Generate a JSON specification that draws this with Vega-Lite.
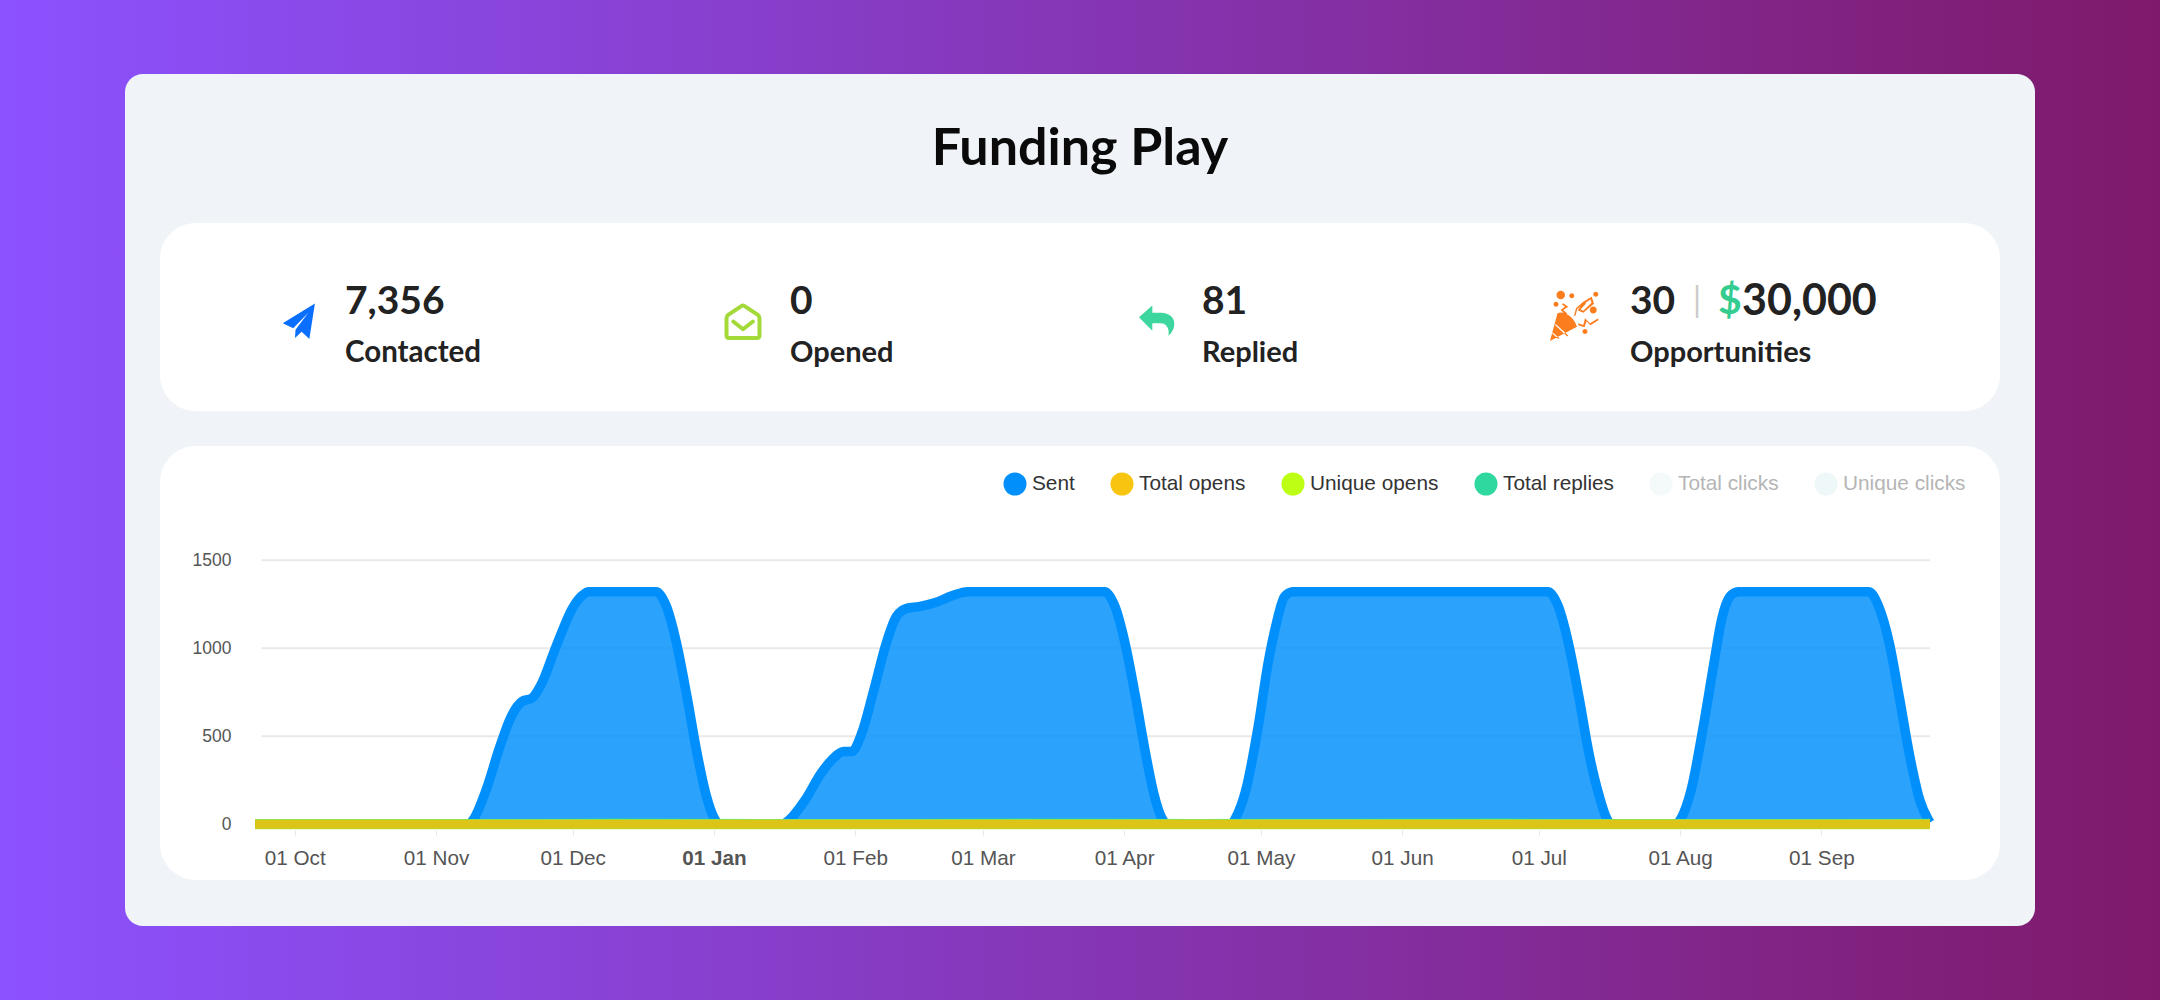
{
"$schema":"https://vega.github.io/schema/vega-lite/v6.json",
"width":2160,"height":1000,"padding":0,"autosize":{"type":"none"},
"background":"#7f1a6b",
"title":{"text":"Funding Play","font":"Lato","fontSize":52,"fontWeight":700,"color":"#0a0a0a","anchor":"middle","frame":"group","offset":0,"dy":176},
"datasets":{
"panels":[{"panel":"frame"}],
"kpis":[{"metric":"Contacted","count":"7,356"},{"metric":"Opened","count":"0"},{"metric":"Replied","count":"81"},{"metric":"Opportunities","count":"30","amount":"30,000"}],
"grid":[{"level":500,"from":"2022-09-23T19:00:00","to":"2023-09-24T20:00:00"},{"level":1000,"from":"2022-09-23T19:00:00","to":"2023-09-24T20:00:00"},{"level":1500,"from":"2022-09-23T19:00:00","to":"2023-09-24T20:00:00"}],
"sent":[
{"d":"2022-09-22T07:00:00","v":0},{"d":"2022-11-08T00:00:00","v":0},{"d":"2022-11-09T00:00:00","v":20},{"d":"2022-11-12T00:00:00","v":195},{"d":"2022-11-15T00:00:00","v":440},{"d":"2022-11-17T12:00:00","v":612},{"d":"2022-11-20T00:00:00","v":700},{"d":"2022-11-22T00:00:00","v":716},{"d":"2022-11-24T00:00:00","v":790},{"d":"2022-11-27T08:00:00","v":1009},{"d":"2022-12-01T00:00:00","v":1230},{"d":"2022-12-03T00:00:00","v":1298},{"d":"2022-12-04T12:00:00","v":1322},{"d":"2022-12-19T07:00:00","v":1322},{"d":"2022-12-21T14:00:00","v":1237},{"d":"2022-12-23T19:00:00","v":1028},{"d":"2022-12-26T02:00:00","v":725},{"d":"2022-12-28T07:00:00","v":403},{"d":"2022-12-30T07:00:00","v":165},{"d":"2023-01-01T02:00:00","v":34},{"d":"2023-01-02T05:00:00","v":0},
{"d":"2023-01-16T00:00:00","v":0},{"d":"2023-01-17T07:00:00","v":20},{"d":"2023-01-21T00:00:00","v":138},{"d":"2023-01-24T12:00:00","v":290},{"d":"2023-01-27T05:00:00","v":375},{"d":"2023-01-29T10:00:00","v":413},{"d":"2023-01-31T05:00:00","v":413},{"d":"2023-02-02T10:00:00","v":517},{"d":"2023-02-05T02:00:00","v":763},{"d":"2023-02-07T19:00:00","v":1028},{"d":"2023-02-10T00:00:00","v":1180},{"d":"2023-02-12T07:00:00","v":1227},{"d":"2023-02-15T00:00:00","v":1237},{"d":"2023-02-18T14:00:00","v":1260},{"d":"2023-02-22T02:00:00","v":1297},{"d":"2023-02-25T17:00:00","v":1322},{"d":"2023-03-27T17:00:00","v":1322},{"d":"2023-03-30T00:00:00","v":1237},{"d":"2023-04-01T05:00:00","v":1028},{"d":"2023-04-03T12:00:00","v":725},{"d":"2023-04-05T17:00:00","v":403},{"d":"2023-04-07T12:00:00","v":176},{"d":"2023-04-09T07:00:00","v":34},{"d":"2023-04-10T12:00:00","v":0},
{"d":"2023-04-24T12:00:00","v":0},{"d":"2023-04-25T10:00:00","v":34},{"d":"2023-04-27T17:00:00","v":195},{"d":"2023-04-30T10:00:00","v":555},{"d":"2023-05-02T14:00:00","v":915},{"d":"2023-05-04T10:00:00","v":1142},{"d":"2023-05-06T05:00:00","v":1294},{"d":"2023-05-08T00:00:00","v":1322},{"d":"2023-07-03T00:00:00","v":1322},{"d":"2023-07-05T07:00:00","v":1237},{"d":"2023-07-07T12:00:00","v":1028},{"d":"2023-07-09T19:00:00","v":725},{"d":"2023-07-12T00:00:00","v":403},{"d":"2023-07-14T07:00:00","v":157},{"d":"2023-07-16T00:00:00","v":28},{"d":"2023-07-17T00:00:00","v":0},
{"d":"2023-07-31T00:00:00","v":0},{"d":"2023-08-01T05:00:00","v":34},{"d":"2023-08-03T10:00:00","v":195},{"d":"2023-08-06T02:00:00","v":555},{"d":"2023-08-08T10:00:00","v":915},{"d":"2023-08-10T02:00:00","v":1161},{"d":"2023-08-11T22:00:00","v":1294},{"d":"2023-08-13T17:00:00","v":1322},{"d":"2023-09-11T10:00:00","v":1322},{"d":"2023-09-13T14:00:00","v":1237},{"d":"2023-09-15T22:00:00","v":1028},{"d":"2023-09-18T02:00:00","v":725},{"d":"2023-09-20T10:00:00","v":384},{"d":"2023-09-22T14:00:00","v":138},{"d":"2023-09-24T10:00:00","v":28},{"d":"2023-09-24T20:00:00","v":10}
],
"low":[
{"s":"Total replies","d":"2022-09-22T07:00:00","v":1},{"s":"Total replies","d":"2022-11-15T00:00:00","v":2},{"s":"Total replies","d":"2022-12-10T00:00:00","v":4},{"s":"Total replies","d":"2023-01-10T00:00:00","v":1},{"s":"Total replies","d":"2023-02-10T00:00:00","v":2},{"s":"Total replies","d":"2023-03-10T00:00:00","v":4},{"s":"Total replies","d":"2023-04-15T00:00:00","v":2},{"s":"Total replies","d":"2023-06-25T00:00:00","v":4},{"s":"Total replies","d":"2023-07-25T00:00:00","v":1},{"s":"Total replies","d":"2023-09-24T20:00:00","v":3},
{"s":"Unique opens","d":"2022-09-22T07:00:00","v":0},{"s":"Unique opens","d":"2023-09-24T20:00:00","v":0},
{"s":"Total opens","d":"2022-09-22T07:00:00","v":0},{"s":"Total opens","d":"2023-09-24T20:00:00","v":0}
]
},
"layer":[
{"data":{"name":"panels"},"mark":{"type":"rect","x":0,"x2":2160,"y":0,"y2":1000,"fill":{"gradient":"linear","x1":0,"y1":0,"x2":1,"y2":0,"stops":[{"offset":0,"color":"#8c52ff"},{"offset":1,"color":"#7f1a6b"}]}}},
{"data":{"name":"panels"},"mark":{"type":"rect","x":125,"x2":2035,"y":74,"y2":926,"cornerRadius":18,"fill":"#f0f4f9"}},
{"data":{"name":"panels"},"mark":{"type":"rect","x":160,"x2":2000,"y":223,"y2":411,"cornerRadius":36,"fill":"#ffffff"}},
{"data":{"name":"panels"},"mark":{"type":"rect","x":160,"x2":2000,"y":446,"y2":880,"cornerRadius":36,"fill":"#ffffff"}},
{"data":{"name":"grid"},"mark":{"type":"rule","stroke":"#e9e9e9","strokeWidth":2},
 "encoding":{"y":{"field":"level","type":"quantitative","scale":{"domain":[0,1500],"nice":false,"range":[824.3,560.3]},"axis":{"values":[0,500,1000,1500],"format":"d","title":null,"orient":"left","offset":-240,"domain":false,"ticks":false,"grid":false,"labelPadding":9,"labelFont":"Liberation Sans","labelFontSize":17.5,"labelColor":"#555555","zindex":1}},
  "x":{"field":"from","type":"temporal","scale":{"domain":["2022-09-22T07:00:00","2023-09-24T20:00:00"],"range":[255,1930]},"axis":{"title":null,"orient":"bottom","offset":-170,"domain":false,"grid":false,"ticks":true,"tickColor":"#e6e6e6","tickSize":5,"tickCount":{"interval":"month","step":1},"format":"%d %b","labelFont":"Liberation Sans","labelFontSize":20.7,"labelColor":"#555555","labelPadding":13,"labelOverlap":false,"labelFlush":false,"labelFontWeight":{"condition":{"test":"month(datum.value)===0","value":"bold"},"value":"normal"},"zindex":1}},
  "x2":{"field":"to"}}},
{"data":{"name":"sent"},"transform":[{"calculate":"'Sent'","as":"series"}],"mark":{"type":"area","interpolate":"monotone","opacity":0.83},
 "encoding":{"x":{"field":"d","type":"temporal"},"y":{"field":"v","type":"quantitative","stack":null},
  "color":{"field":"series","type":"nominal","scale":{"domain":["Sent","Total opens","Unique opens","Total replies","Total clicks","Unique clicks"],"range":["#008ffb","#f7c40f","#bcff14","#2ed89e","#f4f9f9","#eff8f8"]},
   "legend":{"title":null,"orient":"none","legendX":1003,"legendY":472,"direction":"horizontal","columns":6,"gridAlign":"none","columnPadding":35,"symbolType":"circle","symbolSize":530,"symbolOpacity":1,"symbolStrokeWidth":0,"labelFont":"Liberation Sans","labelFontSize":20.8,"labelOffset":5,"labelLimit":300,
    "encode":{"symbols":{"update":{"opacity":{"value":1},"fillOpacity":{"value":1}}},"labels":{"update":{"fill":{"signal":"indexof(['Total clicks','Unique clicks'],datum.value)>=0?'#b5b5b5':'#333333'"}}}}}}}},
{"data":{"name":"sent"},"mark":{"type":"line","interpolate":"monotone","stroke":"#008ffb","strokeWidth":9.5,"strokeJoin":"round"},
 "encoding":{"x":{"field":"d","type":"temporal"},"y":{"field":"v","type":"quantitative"}}},
{"data":{"name":"low"},"transform":[{"filter":"datum.s==='Total replies'"}],"mark":{"type":"line","interpolate":"monotone","stroke":"#2ed89e","strokeWidth":10},
 "encoding":{"x":{"field":"d","type":"temporal"},"y":{"field":"v","type":"quantitative"}}},
{"data":{"name":"low"},"transform":[{"filter":"datum.s==='Unique opens'"}],"mark":{"type":"line","stroke":"#b4e030","strokeWidth":10},
 "encoding":{"x":{"field":"d","type":"temporal"},"y":{"field":"v","type":"quantitative"}}},
{"data":{"name":"low"},"transform":[{"filter":"datum.s==='Total opens'"}],"mark":{"type":"line","stroke":"#dcc418","strokeWidth":8.4},
 "encoding":{"x":{"field":"d","type":"temporal"},"y":{"field":"v","type":"quantitative"}}},
{"data":{"name":"kpis"},"transform":[{"filter":"datum.metric==='Contacted'"}],"mark":{"type":"point","filled":true,"x":299,"y":321,"size":1225,"opacity":1,"fill":"#0a6fff","shape":"M0.91,-1L-0.93,0.13L-0.33,0.42L0.53,-0.47L-0.2,0.5L-0.23,0.97L0.15,0.61L0.59,1.03Z"}},
{"data":{"name":"kpis"},"transform":[{"filter":"datum.metric==='Opened'"}],"mark":{"type":"point","filled":false,"x":743,"y":321.5,"size":1089,"opacity":1,"stroke":"#a4d93a","strokeWidth":4,"strokeCap":"round","strokeJoin":"round","shape":"M-0.1,-0.93Q0,-1 0.1,-0.93L0.9,-0.4Q1,-0.33 1,-0.2V0.85Q1,1 0.85,1H-0.85Q-1,1 -1,0.85V-0.2Q-1,-0.33 -0.9,-0.4Z M-0.59,0L0,0.47L0.6,0"}},
{"data":{"name":"kpis"},"transform":[{"filter":"datum.metric==='Replied'"}],"mark":{"type":"point","filled":true,"x":1157,"y":320,"size":1296,"opacity":1,"fill":"#3dd69f","shape":"M-1,-0.15L-0.26,-0.8V-0.4H0.2C0.7,-0.4 1,-0.1 0.96,0.25C0.95,0.5 0.8,0.75 0.63,0.87C0.7,0.6 0.6,0.18 0.2,0.18H-0.26V0.6Z"}},
{"data":{"name":"kpis"},"transform":[{"filter":"datum.metric==='Opportunities'"}],"mark":{"type":"point","filled":true,"x":1574,"y":317,"size":2500,"opacity":1,"fill":"#fb7d1e","shape":"M-0.96,0.96L-0.66,-0.15C-0.45,-0.25 -0.05,-0.1 0.12,0.39Z M-0.73,0.28L-0.75,0.33L-0.27,0.78L-0.23,0.74Z M-0.85,0.62L-0.87,0.66L-0.62,0.88L-0.58,0.85Z M0.17,0.25L0.37,0.32L0.44,0.05L0.64,0.25L0.97,0.05L0.97,0.13L0.66,0.33L0.5,0.17L0.42,0.41L0.17,0.33Z M-0.43,-0.55L-0.23,-0.41L-0.43,-0.28L-0.27,-0.14L-0.32,-0.08L-0.54,-0.28L-0.36,-0.41L-0.48,-0.5Z M0.0,-0.05L0.08,-0.35L0.37,-0.61L0.71,-0.81L0.8,-0.53L0.37,-0.17L0.14,-0.27L0.42,-0.6L0.48,-0.54L0.26,-0.3L0.37,-0.25L0.7,-0.57L0.66,-0.7L0.42,-0.54L0.13,-0.32L0.06,-0.05Z M-0.7,-0.88a0.17,0.17 0 1,0 0.34,0a0.17,0.17 0 1,0 -0.34,0Z M-0.19,-0.85a0.1,0.1 0 1,0 0.2,0a0.1,0.1 0 1,0 -0.2,0Z M-0.82,-0.51a0.1,0.1 0 1,0 0.2,0a0.1,0.1 0 1,0 -0.2,0Z M0.77,-0.91a0.1,0.1 0 1,0 0.2,0a0.1,0.1 0 1,0 -0.2,0Z M0.63,-0.28a0.14,0.14 0 1,0 0.28,0a0.14,0.14 0 1,0 -0.28,0Z M0.34,0.58a0.1,0.1 0 1,0 0.2,0a0.1,0.1 0 1,0 -0.2,0Z"}},
{"data":{"name":"kpis"},"transform":[{"filter":"datum.metric==='Contacted'"}],"mark":{"type":"text","x":345,"y":302,"align":"left","baseline":"middle","font":"Lato","fontSize":39,"fontWeight":700,"color":"#222222"},"encoding":{"text":{"field":"count"}}},
{"data":{"name":"kpis"},"transform":[{"filter":"datum.metric==='Opened'"}],"mark":{"type":"text","x":790,"y":302,"align":"left","baseline":"middle","font":"Lato","fontSize":39,"fontWeight":700,"color":"#222222"},"encoding":{"text":{"field":"count"}}},
{"data":{"name":"kpis"},"transform":[{"filter":"datum.metric==='Replied'"}],"mark":{"type":"text","x":1202,"y":302,"align":"left","baseline":"middle","font":"Lato","fontSize":39,"fontWeight":700,"color":"#222222"},"encoding":{"text":{"field":"count"}}},
{"data":{"name":"kpis"},"transform":[{"filter":"datum.metric==='Opportunities'"}],"mark":{"type":"text","x":1630,"y":302,"align":"left","baseline":"middle","font":"Lato","fontSize":39,"fontWeight":700,"color":"#222222"},"encoding":{"text":{"field":"count"}}},
{"data":{"name":"kpis"},"transform":[{"filter":"datum.metric==='Opportunities'"}],"mark":{"type":"text","x":1697,"y":302,"align":"center","baseline":"middle","font":"Lato","fontSize":34,"color":"#cccccc","text":"|"}},
{"data":{"name":"kpis"},"transform":[{"filter":"datum.metric==='Opportunities'"}],"mark":{"type":"text","x":1718,"y":302,"align":"left","baseline":"middle","font":"Lato","fontSize":41,"fontWeight":700,"color":"#35cc8f","text":"$"}},
{"data":{"name":"kpis"},"transform":[{"filter":"datum.metric==='Opportunities'"}],"mark":{"type":"text","x":1742,"y":302,"align":"left","baseline":"middle","font":"Lato","fontSize":43,"fontWeight":700,"color":"#222222"},"encoding":{"text":{"field":"amount"}}},
{"data":{"name":"kpis"},"transform":[{"filter":"datum.metric==='Contacted'"}],"mark":{"type":"text","x":345,"y":353,"align":"left","baseline":"middle","font":"Lato","fontSize":29.5,"fontWeight":700,"color":"#222222"},"encoding":{"text":{"field":"metric"}}},
{"data":{"name":"kpis"},"transform":[{"filter":"datum.metric==='Opened'"}],"mark":{"type":"text","x":790,"y":353,"align":"left","baseline":"middle","font":"Lato","fontSize":29,"fontWeight":700,"color":"#222222"},"encoding":{"text":{"field":"metric"}}},
{"data":{"name":"kpis"},"transform":[{"filter":"datum.metric==='Replied'"}],"mark":{"type":"text","x":1202,"y":353,"align":"left","baseline":"middle","font":"Lato","fontSize":29,"fontWeight":700,"color":"#222222"},"encoding":{"text":{"field":"metric"}}},
{"data":{"name":"kpis"},"transform":[{"filter":"datum.metric==='Opportunities'"}],"mark":{"type":"text","x":1630,"y":353,"align":"left","baseline":"middle","font":"Lato","fontSize":29,"fontWeight":700,"color":"#222222"},"encoding":{"text":{"field":"metric"}}}
],
"config":{"view":{"stroke":null}}
}
